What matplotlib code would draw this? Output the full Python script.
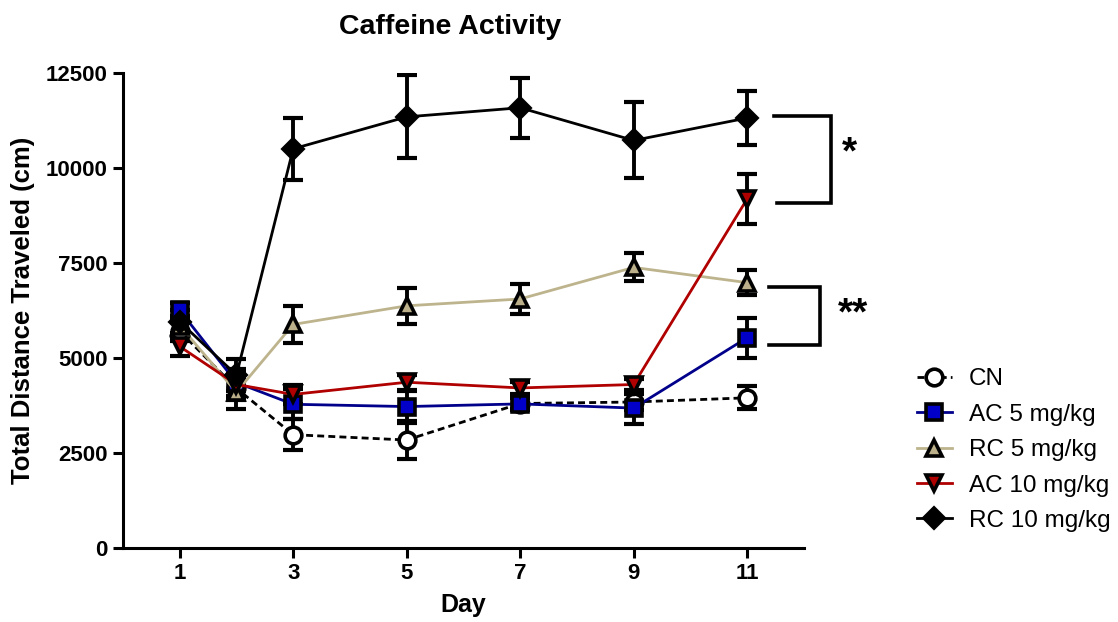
import matplotlib
matplotlib.use("Agg")
import matplotlib.pyplot as plt

plt.rcParams['font.family'] = ['Liberation Sans', 'DejaVu Sans']

# Data
days = [1, 2, 3, 5, 7, 9, 11]

cn = [5700, 4200, 2980, 2840, 3800, 3840, 3950]
cn_err = [250, 300, 400, 500, 150, 200, 300]

ac5 = [6250, 4350, 3780, 3720, 3790, 3680, 5530]
ac5_err = [200, 350, 400, 420, 150, 420, 530]

rc5 = [5850, 4100, 5880, 6370, 6550, 7380, 6980]
rc5_err = [250, 450, 480, 470, 400, 370, 320]

ac10 = [5300, 4300, 4040, 4360, 4210, 4300, 9180]
ac10_err = [250, 300, 250, 200, 150, 150, 650]

rc10 = [5950, 4550, 10500, 11340, 11580, 10720, 11310]
rc10_err = [300, 420, 820, 1090, 790, 1000, 720]

labels = ['CN', 'AC 5 mg/kg', 'RC 5 mg/kg', 'AC 10 mg/kg', 'RC 10 mg/kg']
y_ticks = [0, 2500, 5000, 7500, 10000, 12500]
x_ticks = [1, 3, 5, 7, 9, 11]

fig = plt.figure(figsize=(11.18, 6.22), dpi=100)
ax = fig.add_axes([0.110, 0.119, 0.609, 0.764])

series = [
    (cn, cn_err, 'o', 'white', 'black', '--'),
    (ac5, ac5_err, 's', '#0000C8', '#00008B', '-'),
    (rc5, rc5_err, '^', '#BBB08A', '#BDB48D', '-'),
    (ac10, ac10_err, 'v', '#B00000', '#B00000', '-'),
    (rc10, rc10_err, 'D', 'black', 'black', '-'),
]

handles = []
for (vals, err, mk, face, lc, ls), lab in zip(series, labels):
    ax.errorbar(days, vals, yerr=err, fmt='none', ecolor='black',
                elinewidth=2.8, capsize=7.5, capthick=3.0, zorder=2)
    line, = ax.plot(days, vals, color=lc, linestyle=ls, linewidth=2.0,
                    marker=mk, markersize=12 if mk != 'D' else 10,
                    markerfacecolor=face, markeredgecolor='black',
                    markeredgewidth=2.6, label=lab, zorder=3)
    if ls == '--':
        line.set_dashes((2.5, 1.5))
    handles.append(line)

ax.set_xlim(0, 12)
ax.set_ylim(0, 12500)
ax.set_xticks(x_ticks)
ax.set_yticks(y_ticks)
for s in ['top', 'right']:
    ax.spines[s].set_visible(False)
for s in ['left', 'bottom']:
    ax.spines[s].set_linewidth(2.2)
ax.tick_params(width=2.2, length=7, labelsize=16, pad=4)
for t in ax.get_xticklabels() + ax.get_yticklabels():
    t.set_fontweight('bold')

ax.set_xlabel('Day', fontsize=18, fontweight='bold', labelpad=6)
ax.set_ylabel('Total Distance Traveled (cm)', fontsize=18.5, fontweight='bold', labelpad=8)
ax.set_title('Caffeine Activity', fontsize=20.5, fontweight='bold', pad=28, x=0.48)

# significance brackets
ax.plot([11.48, 12.47, 12.47, 11.53], [11370, 11370, 9080, 9080],
        color='black', linewidth=2.6, clip_on=False, solid_joinstyle='miter')
ax.text(12.8, 10370, '*', fontsize=28, fontweight='bold', ha='center', va='center')
ax.plot([11.39, 12.29, 12.29, 11.39], [6870, 6870, 5340, 5340],
        color='black', linewidth=2.6, clip_on=False, solid_joinstyle='miter')
ax.text(12.87, 6130, '**', fontsize=28, fontweight='bold', ha='center', va='center')

ax.legend(handles=handles, loc='upper left', bbox_to_anchor=(1.166, 0.378),
          frameon=False, fontsize=17.5, handlelength=1.45, labelspacing=0.55,
          handletextpad=0.7, borderaxespad=0, borderpad=0)

fig.savefig('out.png', dpi=100)
